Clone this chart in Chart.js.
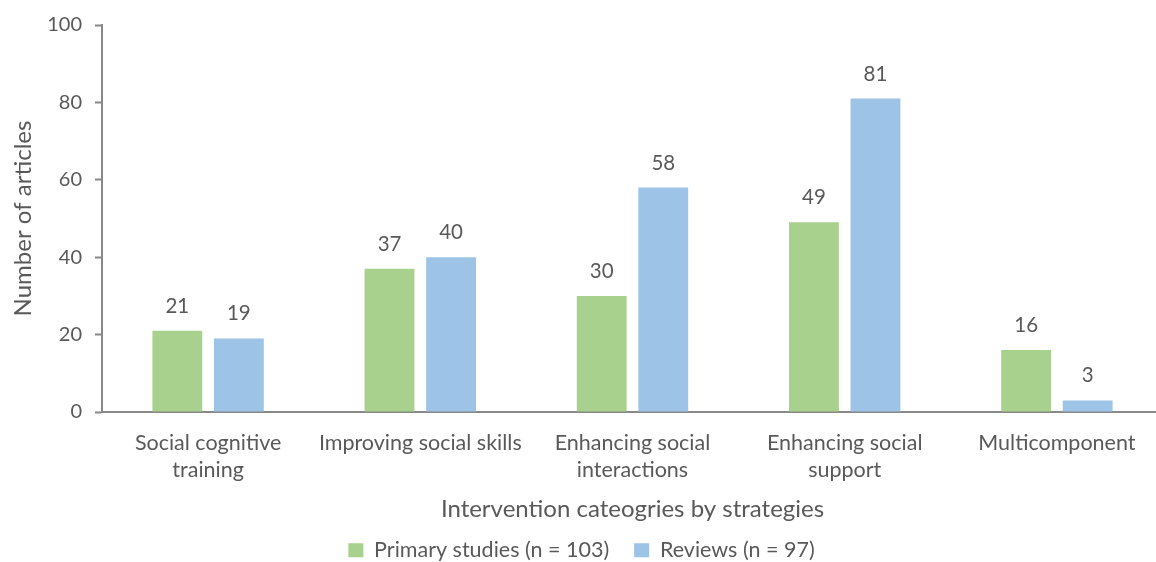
<!DOCTYPE html>
<html>
<head>
<meta charset="utf-8">
<script src="https://cdn.jsdelivr.net/npm/chart.js@4/dist/chart.umd.min.js"></script>
<style>
  html, body { margin: 0; padding: 0; background: #fff; overflow: hidden; }
  #wrap { width: 1156px; height: 562px; overflow: hidden; }
  canvas { display: block; }
</style>
</head>
<body>
<div id="wrap"><canvas id="chart" width="1166" height="571"></canvas></div>
<script>
// Intervention categories (multi-line labels as drawn under the axis)
const categories = [
  ['Social cognitive', 'training'],
  'Improving social skills',
  ['Enhancing social', 'interactions'],
  ['Enhancing social', 'support'],
  'Multicomponent'
];
const primaryStudies = [21, 37, 30, 49, 16];
const reviews = [19, 40, 58, 81, 3];
const seriesNames = ['Primary studies (n = 103)', 'Reviews (n = 97)'];
const yTicks = [0, 20, 40, 60, 80, 100];

const TEXT = '#595959';
const AXIS = '#898989';
const FONT = 'Lato, "Open Sans", sans-serif';

// Writes each bar's value above it
const valueLabels = {
  id: 'valueLabels',
  afterDatasetsDraw(chart) {
    const ctx = chart.ctx;
    ctx.save();
    ctx.font = '20.5px ' + FONT;
    ctx.fillStyle = TEXT;
    ctx.textAlign = 'center';
    ctx.textBaseline = 'alphabetic';
    chart.data.datasets.forEach((ds, i) => {
      const meta = chart.getDatasetMeta(i);
      meta.data.forEach((bar, j) => {
        ctx.fillText(String(ds.data[j]), bar.x, bar.y - 18);
      });
    });
    ctx.restore();
  }
};

new Chart(document.getElementById('chart'), {
  type: 'bar',
  data: {
    labels: categories,
    datasets: [
      { label: seriesNames[0], data: primaryStudies, backgroundColor: '#A9D18E',
        barPercentage: 0.81, categoryPercentage: 0.58 },
      { label: seriesNames[1], data: reviews, backgroundColor: '#9DC3E6',
        barPercentage: 0.81, categoryPercentage: 0.58 }
    ]
  },
  options: {
    responsive: false,
    animation: false,
    layout: { padding: { top: 23, right: 3, left: 0, bottom: 0 } },
    plugins: {
      tooltip: { enabled: false },
      legend: {
        position: 'bottom',
        labels: {
          color: TEXT,
          font: { family: FONT, size: 21.5 },
          boxWidth: 15,
          boxHeight: 14,
          padding: 25
        }
      }
    },
    scales: {
      x: {
        grid: { display: false },
        border: { display: true, color: AXIS, width: 2 },
        ticks: {
          color: TEXT,
          font: { family: FONT, size: 21.5, lineHeight: 1.25 },
          padding: 10,
          maxRotation: 0,
          autoSkip: false
        },
        title: {
          display: true,
          text: 'Intervention cateogries by strategies',
          color: TEXT,
          font: { family: FONT, size: 24 },
          padding: { top: 0, bottom: -9 }
        },
        afterFit(scale) { scale.height = 102.5; }
      },
      y: {
        min: 0,
        max: 100,
        afterBuildTicks(scale) { scale.ticks = yTicks.map(v => ({ value: v })); },
        grid: { drawOnChartArea: false, drawTicks: true, tickLength: 7, color: AXIS, tickWidth: 2 },
        border: { display: true, color: AXIS, width: 2 },
        ticks: {
          color: TEXT,
          font: { family: FONT, size: 20 },
          padding: 13
        },
        title: {
          display: true,
          text: 'Number of articles',
          color: TEXT,
          font: { family: FONT, size: 24 },
          padding: { top: 9, bottom: 0 }
        },
        afterFit(scale) { scale.width = 102; }
      }
    }
  },
  plugins: [valueLabels]
});
</script>
</body>
</html>
